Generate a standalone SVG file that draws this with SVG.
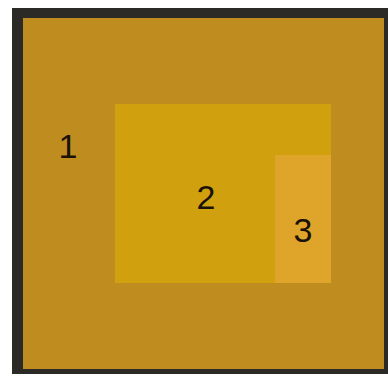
<svg xmlns="http://www.w3.org/2000/svg" width="388" height="379" viewBox="0 0 388 379">
<style>
.lbl{font-family:"Liberation Sans",Arial,sans-serif;font-size:34px;fill:#1a1208;text-anchor:middle}
</style>
<rect x="0" y="0" width="388" height="379" fill="#ffffff"/>
<g id="frame">
<rect x="12" y="8" width="376" height="366" fill="#2c2a27"/>
</g>
<g id="node1">
<rect x="23" y="18" width="361" height="351" fill="#be8c1f"/>
<text class="lbl" x="68" y="158">1</text>
</g>
<g id="node2">
<rect x="115" y="104" width="216" height="179" fill="#d1a00f"/>
<text class="lbl" x="206" y="209">2</text>
</g>
<g id="node3">
<rect x="275" y="155" width="56" height="128" fill="#dfa52a"/>
<text class="lbl" x="303" y="242">3</text>
</g>
<g id="connectors"></g>
</svg>
